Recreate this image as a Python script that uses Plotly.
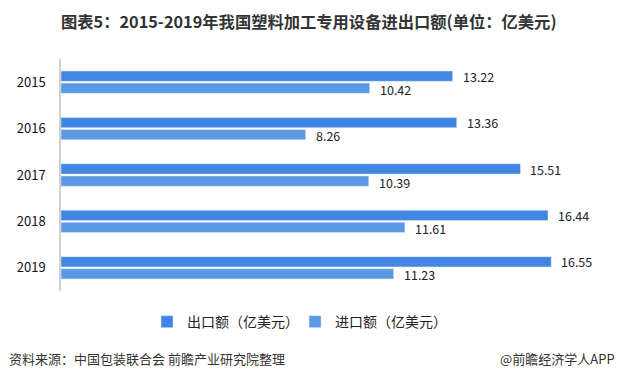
import plotly.graph_objects as go

years = ["2015", "2016", "2017", "2018", "2019"]
export_vals = [13.22, 13.36, 15.51, 16.44, 16.55]
import_vals = [10.42, 8.26, 10.39, 11.61, 11.23]
export_name = "出口额（亿美元）"
import_name = "进口额（亿美元）"
title = "图表5：2015-2019年我国塑料加工专用设备进出口额(单位：亿美元)"
source = "资料来源：中国包装联合会 前瞻产业研究院整理"
brand = "@前瞻经济学人APP"

c_exp = "#4186e2"
c_imp = "#5b98e6"
font = "Noto Sans CJK SC, Microsoft YaHei, sans-serif"

fig = go.Figure()
fig.add_trace(go.Bar(y=years, x=export_vals, orientation="h", name=export_name,
                     marker_color=c_exp))
fig.add_trace(go.Bar(y=years, x=import_vals, orientation="h", name=import_name,
                     marker_color=c_imp))

annotations = []
for i, y in enumerate(years):
    annotations.append(dict(x=export_vals[i], y=i, text=f"{export_vals[i]:.2f}", xref="x", yref="y",
                            showarrow=False, xanchor="left", xshift=8, yshift=6,
                            font=dict(size=12.5, color="#222", family=font)))
    annotations.append(dict(x=import_vals[i], y=i, text=f"{import_vals[i]:.2f}", xref="x", yref="y",
                            showarrow=False, xanchor="left", xshift=8, yshift=-7,
                            font=dict(size=12.5, color="#222", family=font)))

annotations.append(dict(x=0.452, y=1.164, xref="paper", yref="paper", yanchor="middle", xanchor="center",
                        text="<b>" + title + "</b>", showarrow=False,
                        font=dict(size=16.3, color="#333", family=font)))
annotations.append(dict(x=-0.0985, y=-0.293, xref="paper", yref="paper", xanchor="left", yanchor="middle",
                        text=source, showarrow=False, font=dict(size=13, color="#333", family=font)))
annotations.append(dict(x=1.014, y=-0.293, xref="paper", yref="paper", xanchor="right", yanchor="middle",
                        text=brand, showarrow=False, font=dict(size=13, color="#333", family=font)))
fig.update_layout(annotations=annotations)

fig.update_layout(
    width=619, height=379,
    margin=dict(l=61, r=10, t=59, b=88),
    paper_bgcolor="white", plot_bgcolor="white",
    barmode="group", bargap=0.48, bargroupgap=0.15,
    showlegend=True,
    legend=dict(orientation="h", x=0.157, xanchor="left", y=-0.134, yanchor="middle",
                font=dict(size=14, color="#222", family=font),
                traceorder="normal", entrywidth=103),
    xaxis=dict(range=[0, 18.5], showgrid=False, showticklabels=False, zeroline=False,
               showline=False, fixedrange=True),
    yaxis=dict(type="category", range=[4.5, -0.5], showgrid=False, showline=True,
               linecolor="#d0d0d0", linewidth=1.5, ticks="", ticklabelstandoff=11,
               tickfont=dict(size=13, color="#111", family=font), fixedrange=True),
    font=dict(family=font),
    hovermode=False,
)

fig.write_html("out.html", config={"displayModeBar": False},
               post_script="document.body.style.margin='0';")
